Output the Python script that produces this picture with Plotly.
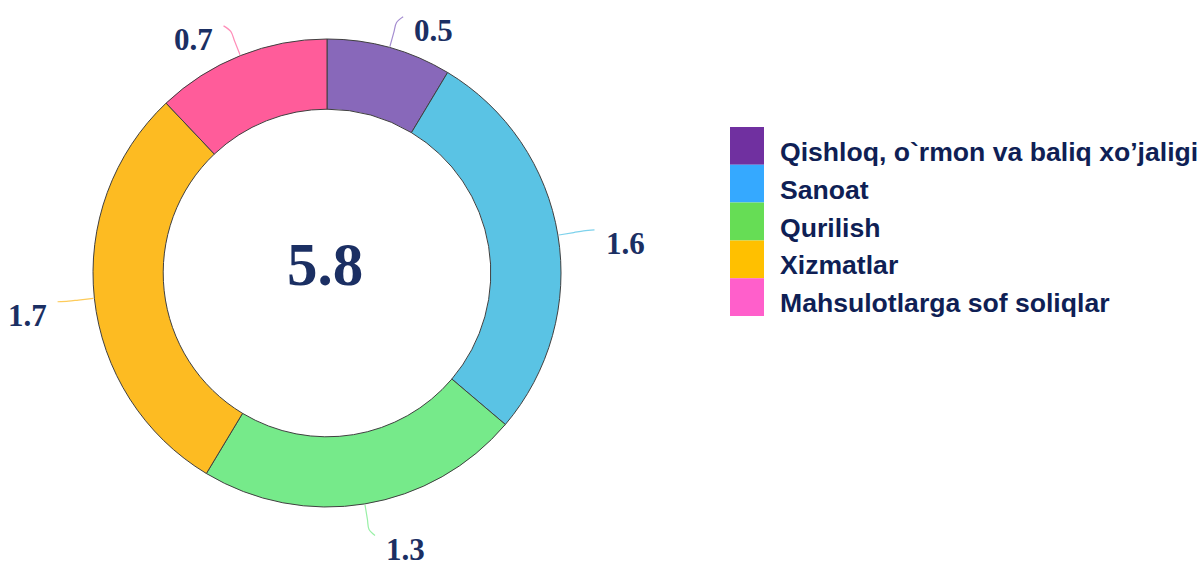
import math
import plotly.graph_objects as go

categories = ["Qishloq, o`rmon va baliq xo’jaligi", "Sanoat", "Qurilish", "Xizmatlar", "Mahsulotlarga sof soliqlar"]
values = [0.5, 1.6, 1.3, 1.7, 0.7]
total_label = "5.8"
slice_colors = ["#8868BA", "#5AC3E4", "#76EA8A", "#FDBB22", "#FF5C9A"]
line_colors = ["#A48CD0", "#7ED2EC", "#98F0A6", "#FDCB5A", "#FF8DB8"]
legend_colors = ["#7030A0", "#35A9FF", "#66DD55", "#FFC000", "#FF5FCB"]

W, H = 1202, 566
cx, cy, R = 327, 273, 234
label_color = "#1B2F63"
legend_text_color = "#0F1F55"

fig = go.Figure()
fig.add_trace(go.Pie(
    labels=categories, values=values, sort=False, direction="clockwise", rotation=0,
    hole=0.70, marker=dict(colors=slice_colors, line=dict(color="#404040", width=1)),
    textinfo="none", hoverinfo="label+value", showlegend=False,
    domain=dict(x=[(cx - R) / W, (cx + R) / W], y=[(H - cy - R) / H, (H - cy + R) / H]),
))

annotations = []
tot = sum(values)
cum = 0.0
for i, v in enumerate(values):
    mid = (cum + v / 2) / tot * 2 * math.pi
    cum += v
    s, c = math.sin(mid), math.cos(mid)
    side = 1 if s >= 0 else -1
    pts = [(cx + r * s, cy - r * c) for r in (235, 250, 260)]
    ex, ey = cx + 266 * s + side * 5, cy - 266 * c
    pts.append((ex, ey))
    fig.add_trace(go.Scatter(
        x=[p[0] for p in pts], y=[p[1] for p in pts], mode="lines",
        line=dict(color=line_colors[i], width=1.2, shape="spline"),
        hoverinfo="skip", showlegend=False,
    ))
    annotations.append(dict(
        x=ex + side * 9, y=ey + 14, xref="x", yref="y", text=f"<b>{v:.1f}</b>", showarrow=False,
        xanchor="left" if side > 0 else "right", yanchor="middle",
        font=dict(family="Liberation Serif", size=31, color=label_color),
    ))

annotations.append(dict(
    x=325, y=264, xref="x", yref="y", text=f"<b>{total_label}</b>", showarrow=False,
    xanchor="center", yanchor="middle",
    font=dict(family="Liberation Serif", size=61, color=label_color),
))

shapes = []
lx0, lx1, ly0, lh = 730, 764, 127, 37.8
for i, name in enumerate(categories):
    y0 = ly0 + i * lh
    shapes.append(dict(type="rect", xref="x", yref="y", x0=lx0, x1=lx1, y0=y0, y1=y0 + lh,
                       fillcolor=legend_colors[i], line=dict(width=0), layer="above"))
    annotations.append(dict(
        x=778, y=y0 + lh / 2 + 6, xref="x", yref="y", text=f"<b>{name}</b>", showarrow=False,
        xanchor="left", yanchor="middle",
        font=dict(family="Liberation Sans", size=26.6, color=legend_text_color),
    ))

fig.update_layout(
    width=W, height=H, margin=dict(l=0, r=0, t=0, b=0),
    paper_bgcolor="white", plot_bgcolor="rgba(0,0,0,0)",
    xaxis=dict(range=[0, W], visible=False, fixedrange=True, domain=[0, 1]),
    yaxis=dict(range=[H, 0], visible=False, fixedrange=True, domain=[0, 1]),
    showlegend=False, annotations=annotations, shapes=shapes,
)
fig.write_html("out.html", config={"displayModeBar": False},
               post_script="document.body.style.margin='0';document.body.style.overflow='hidden';")
